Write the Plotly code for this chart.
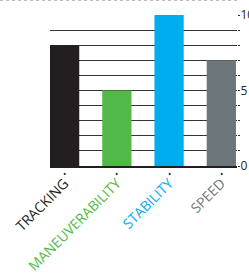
import plotly.graph_objects as go

categories = ["TRACKING", "MANEUVERABILITY", "STABILITY", "SPEED"]
values = [8, 5, 10, 7]
colors = ["#231f20", "#52b848", "#00aeef", "#6d777b"]
y_ticks = list(range(0, 11))
y_ticklabels = ["0", "", "", "", "", "5", "", "", "", "", "10"]

ticktext = [f'<span style="color:{c}">{t}</span>' for t, c in zip(categories, colors)]

fig = go.Figure()
fig.add_trace(go.Bar(x=categories, y=values, marker=dict(color=colors, line=dict(width=0)),
                     showlegend=False, hoverinfo="skip"))

for cat in categories:
    fig.add_annotation(x=cat, y=0, xref="x", yref="y", text="•", showarrow=False,
                       yshift=-7, font=dict(size=9, color="#231f20"))

fig.update_layout(
    width=249, height=277,
    margin=dict(l=50, r=12, t=15, b=111),
    paper_bgcolor="white", plot_bgcolor="white",
    bargap=0.44,
    font=dict(family="Open Sans", color="#231f20"),
    xaxis=dict(type="category", range=[-0.28, 3.3], tickvals=categories, ticktext=ticktext,
               tickangle=-45, tickfont=dict(size=14), showgrid=False, ticks="", automargin=False,
               ticklabelstandoff=2,
               showline=True, linecolor="#231f20", linewidth=1.5, zeroline=False),
    yaxis=dict(side="right", range=[0, 10], tickvals=y_ticks, ticktext=y_ticklabels,
               showgrid=True, gridcolor="#333333", gridwidth=1, ticks="outside", ticklen=2,
               tickcolor="#333333", tickfont=dict(size=12, color="#231f20"), automargin=False,
               ticklabelstandoff=-2,
               zeroline=False, showline=False, layer="below traces"),
    shapes=[dict(type="line", xref="paper", yref="paper", x0=-0.267, x1=1.016, y0=1.096, y1=1.096,
                 line=dict(color="#bbbbbb", width=1, dash="dot"))],
)
fig.write_html("out.html", config={"displayModeBar": False},
               post_script="document.body.style.margin='0';document.body.style.overflow='hidden';")
